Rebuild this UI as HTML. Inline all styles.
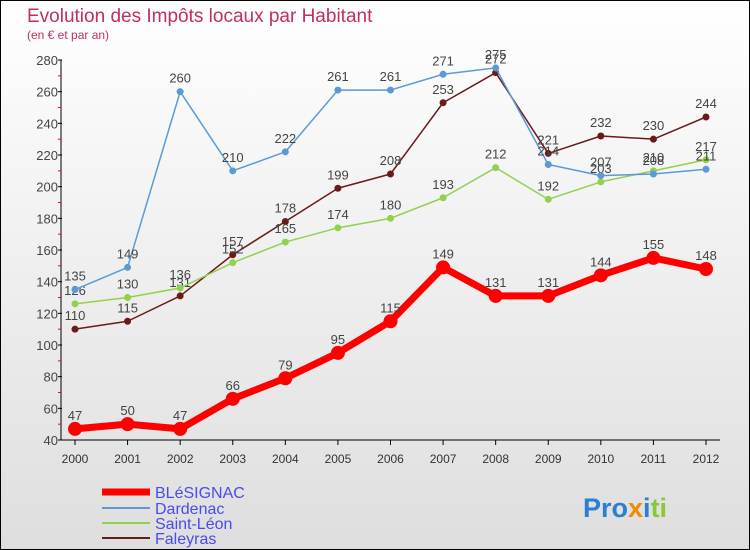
<!DOCTYPE html>
<html><head><meta charset="utf-8"><style>
body{margin:0}
svg{display:block;font-family:"Liberation Sans",sans-serif}
</style></head><body>
<svg id="c" width="750" height="550" xmlns="http://www.w3.org/2000/svg">
<defs><linearGradient id="bg" x1="0" y1="0" x2="0" y2="1"><stop offset="0" stop-color="#ffffff"/><stop offset="1" stop-color="#dedede"/></linearGradient></defs>
<rect x="0.5" y="0.5" width="749" height="549" fill="url(#bg)" stroke="#000"/>
<text x="27" y="22" font-size="19" fill="#c0305a">Evolution des Impôts locaux par Habitant</text>
<text x="27" y="39" font-size="12" fill="#c0305a">(en € et par an)</text>
<g id="axes"></g><g id="series"></g>
<g>
<line x1="102" y1="492" x2="150" y2="492" stroke="#f00" stroke-width="7"/>
<text x="155" y="498" font-size="16" fill="#4a4af0">BLéSIGNAC</text>
<line x1="102" y1="508" x2="150" y2="508" stroke="#5b9bd5" stroke-width="2"/>
<text x="155" y="514" font-size="16" fill="#4a4af0">Dardenac</text>
<line x1="102" y1="523" x2="150" y2="523" stroke="#92d050" stroke-width="2"/>
<text x="155" y="529" font-size="16" fill="#4a4af0">Saint-Léon</text>
<line x1="102" y1="538" x2="150" y2="538" stroke="#6b1a1a" stroke-width="2"/>
<text x="155" y="544" font-size="16" fill="#4a4af0">Faleyras</text>
</g>
<text x="583" y="517" font-size="27" font-weight="bold"><tspan fill="#2a7fd4">Pro</tspan><tspan fill="#f08a00">x</tspan><tspan fill="#2a7fd4">i</tspan><tspan fill="#8cc63f">ti</tspan></text>
</svg>
<script>
const years=[2000,2001,2002,2003,2004,2005,2006,2007,2008,2009,2010,2011,2012];
const yTicks=[40,60,80,100,120,140,160,180,200,220,240,260,280];
const blesignac=[47,50,47,66,79,95,115,149,131,131,144,155,148];
const dardenac=[135,149,260,210,222,261,261,271,275,214,207,208,211];
const saintLeon=[126,130,136,152,165,174,180,193,212,192,203,210,217];
const faleyras=[110,115,131,157,178,199,208,253,272,221,232,230,244];
const NS="http://www.w3.org/2000/svg";
function X(i){return 75+i*(706-75)/(years.length-1);}
function Y(v){return 440-(v-40)*380/240;}
function mk(t,a,p){const e=document.createElementNS(NS,t);for(const k in a)e.setAttribute(k,a[k]);p.appendChild(e);return e;}
const ax=document.getElementById('axes');
let l=mk('line',{x1:61,y1:Y(280),x2:61,y2:440,stroke:'#000'},ax);


l=mk('line',{x1:61,y1:440,x2:720,y2:440,stroke:'#000'},ax);


yTicks.forEach((v,i)=>{
 const t=mk('text',{x:58,y:Y(v)+5,'font-size':13,'text-anchor':'end',fill:'#444'},ax);t.textContent=v;
 
 
 mk('line',{x1:58,y1:Y(v),x2:62,y2:Y(v),stroke:'#000'},ax);
 if(i<yTicks.length-1)mk('line',{x1:58,y1:Y(v+10),x2:61,y2:Y(v+10),stroke:'#f00'},ax);
});
years.forEach((y,i)=>{
 const t=mk('text',{x:X(i),y:463,'font-size':12,'text-anchor':'middle',fill:'#333'},ax);t.textContent=y;
 
 
 mk('line',{x1:X(i),y1:440,x2:X(i),y2:445,stroke:'#000'},ax);
});
const sg=document.getElementById('series');
function draw(vals,col,w,r,name){
 const g=mk('g',{},sg);
 
 
 const p=mk('polyline',{points:vals.map((v,i)=>X(i)+','+Y(v)).join(' '),fill:'none',stroke:col,'stroke-width':w,'stroke-linejoin':'round'},g);
 
 
 vals.forEach((v,i)=>{
  const c=mk('circle',{cx:X(i),cy:Y(v),r:r,fill:col},g);
  
  
  const t=mk('text',{x:X(i),y:Y(v)-9,'font-size':13,'text-anchor':'middle',fill:'#444'},g);t.textContent=v;
  
  
 });
}
draw(faleyras,'#6b1a1a',1.5,3.5,'faleyras');
draw(saintLeon,'#92d050',1.5,3.5,'saint-leon');
draw(dardenac,'#5b9bd5',1.5,3.5,'dardenac');
draw(blesignac,'#f00',7,7,'blesignac');
</script>
</body></html>
